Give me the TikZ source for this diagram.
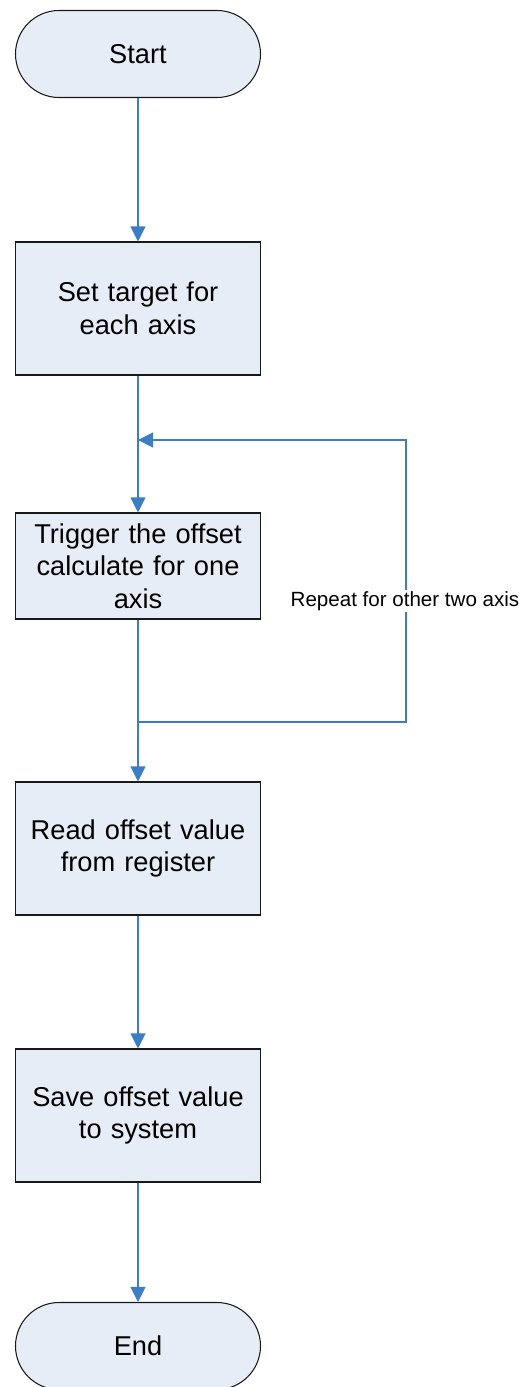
\documentclass[tikz,border=0pt]{standalone}
\usepackage{fontspec}
\setmainfont{Liberation Sans}
\usetikzlibrary{arrows.meta}
\definecolor{flowblue}{RGB}{60,125,195}
\definecolor{boxfill}{RGB}{230,237,246}

\begin{document}
\begin{tikzpicture}[
  stepbox/.style = {draw = black!90, fill = boxfill, line width = .6pt, minimum width = 4.9cm,
    minimum height = 2.66cm, align = center, text width = 4.3cm, font = \fontsize{15.5}{18.5}\selectfont},
  termbox/.style = {stepbox, rounded corners = .87cm, minimum height = 1.74cm},
  flow/.style = {flowblue, semithick, -{Triangle[length = .3cm, width = .3cm]}}
]
\useasboundingbox (0,0) rectangle (10.4,-27.74);
\begin{scope}
\node[termbox] (start) at (2.76,-1.08) {Start};
\node[stepbox] (target) at (2.76,-6.17) {Set target for\\each axis};
\node[stepbox, minimum height = 2.12cm] (trigger) at (2.76,-11.32) {Trigger the offset\\calculate for one\\axis};
\node[stepbox] (read) at (2.76,-16.97) {Read offset value\\from register};
\node[stepbox] (save) at (2.76,-22.31) {Save offset value\\to system};
\node[termbox] (end) at (2.76,-26.92) {End};
\coordinate (loopin) at (2.76,-8.8);
\coordinate (loopout) at (2.76,-14.44);
\coordinate (rtop) at (8.12,-8.8);
\coordinate (rbot) at (8.12,-14.44);
\draw[flow] (start) -- (target);
\draw[flowblue, semithick] (target) -- (loopin);
\draw[flow] (loopin) -- (trigger);
\draw[flowblue, semithick] (trigger) -- (loopout);
\draw[flow] (loopout) -- (read);
\draw[flow] (read) -- (save);
\draw[flow] (save) -- (end);
\draw[flow] (loopout) -- (rbot) -- (rtop) -- (loopin);
\node[fill = white, inner sep = 1pt, font = \fontsize{11.7}{14}\selectfont] (repeat) at (8.1,-12.02) {Repeat for other two axis};
\end{scope}
\end{tikzpicture}
\end{document}
